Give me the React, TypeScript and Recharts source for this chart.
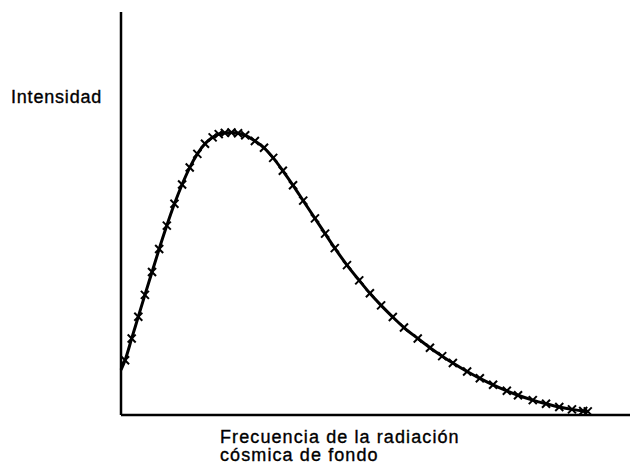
import { LineChart, Line, XAxis, YAxis } from 'recharts'

// frecuencia (unidades arbitrarias) e intensidad
const frequency = [
  0, 0.08, 0.21, 0.34, 0.47, 0.61, 0.75, 0.9, 1.05, 1.2, 1.35, 1.5, 1.65, 1.8, 1.92, 2.04,
  2.17, 2.3, 2.44, 2.63, 2.81, 2.99, 3.18, 3.38, 3.58, 3.81, 4.01, 4.2, 4.44, 4.68, 4.89,
  5.11, 5.34, 5.56, 5.83, 6.07, 6.31, 6.52, 6.8, 7.05, 7.31, 7.58, 7.8, 8.09, 8.35, 8.61,
  8.86, 9.08, 9.17,
]
const intensity = [
  1.12, 1.36, 1.9, 2.44, 2.98, 3.55, 4.12, 4.7, 5.24, 5.72, 6.14, 6.48, 6.73, 6.89, 6.97, 7.0,
  7.01, 6.99, 6.94, 6.8, 6.63, 6.38, 6.06, 5.7, 5.32, 4.88, 4.5, 4.14, 3.72, 3.34, 3.02,
  2.72, 2.43, 2.17, 1.9, 1.67, 1.46, 1.29, 1.08, 0.91, 0.75, 0.6, 0.49, 0.37, 0.28, 0.2,
  0.14, 0.1, 0.09,
]

const yLabel = 'Intensidad'
const xLabelLines = ['Frecuencia de la radiación', 'cósmica de fondo']

const data = frequency.map((f, i) => ({ f, v: intensity[i] }))

const FONT = '"Liberation Sans", Arial, Helvetica, sans-serif'

function Cross(props: any) {
  const { cx, cy, index } = props
  if (index === 0 || cx == null || cy == null) return <g key={`c-${index}`} />
  const s = 4
  return (
    <g key={`c-${index}`} stroke="#000" strokeWidth={2}>
      <line x1={cx - s} y1={cy - s} x2={cx + s} y2={cy + s} />
      <line x1={cx - s} y1={cy + s} x2={cx + s} y2={cy - s} />
    </g>
  )
}

export default function App() {
  return (
    <div style={{ position: 'absolute', left: 0, top: 0, width: 633, height: 465, background: '#fff' }}>
      <LineChart width={633} height={465} data={data} margin={{ top: 12, right: 3, bottom: 49, left: 120 }}>
        <XAxis
          dataKey="f"
          type="number"
          domain={[0, 10]}
          tick={false}
          tickLine={false}
          height={1}
          axisLine={{ stroke: '#000', strokeWidth: 2.5 }}
        />
        <YAxis
          type="number"
          domain={[0, 10]}
          tick={false}
          tickLine={false}
          width={1}
          axisLine={{ stroke: '#000', strokeWidth: 2.5 }}
        />
        <Line
          type="monotone"
          dataKey="v"
          stroke="#000"
          strokeWidth={3}
          dot={<Cross />}
          activeDot={false}
          isAnimationActive={false}
        />
      </LineChart>
      <svg
        width={633}
        height={465}
        style={{ position: 'absolute', left: 0, top: 0, pointerEvents: 'none' }}
      >
        <g fontFamily={FONT} fontSize={18} fill="#000" stroke="#000" strokeWidth={0.35}>
          <text x={11} y={103} letterSpacing={0.8}>
            {yLabel}
          </text>
          {xLabelLines.map((line, i) => (
            <text key={line} x={220} y={443 + i * 18} letterSpacing={1.1}>
              {line}
            </text>
          ))}
        </g>
      </svg>
    </div>
  )
}
